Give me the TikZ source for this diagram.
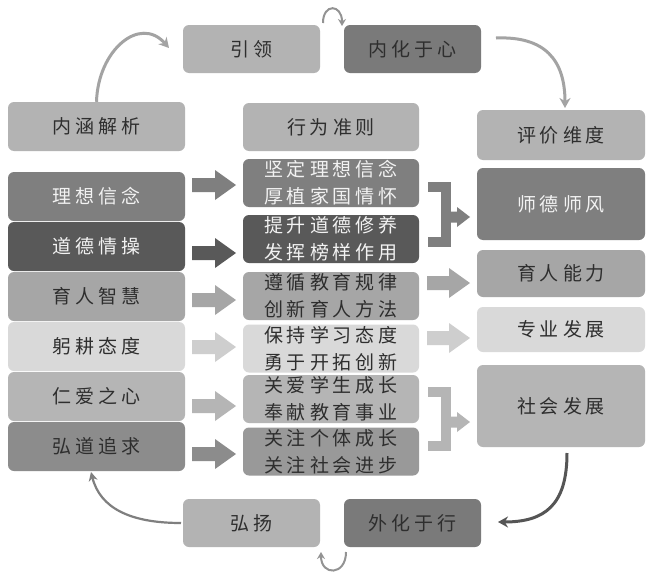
\documentclass[tikz,border=0pt]{standalone}
\usepackage{fontspec}
\newfontfamily\cjk{Noto Sans CJK SC}
\usetikzlibrary{arrows.meta}
\definecolor{gA}{HTML}{7F7F7F}
\definecolor{gB}{HTML}{595959}
\definecolor{gC}{HTML}{A6A6A6}
\definecolor{gD}{HTML}{D9D9D9}
\definecolor{gE}{HTML}{B5B5B5}
\definecolor{gF}{HTML}{8C8C8C}
\definecolor{gFm}{HTML}{999999}
\definecolor{hdr}{HTML}{B3B3B3}
\definecolor{dk}{HTML}{7A7A7A}
\definecolor{txtd}{HTML}{2E2E2E}
\definecolor{txtl}{HTML}{F2F2F2}
\definecolor{arrg}{HTML}{A3A3A3}
\definecolor{arrd}{HTML}{555555}
\def\spaced#1{\spacedfirst#1\relax}
\def\spacedfirst#1{#1\spacedrest}
\def\spacedrest#1{\ifx#1\relax\else\kern4pt #1\expandafter\spacedrest\fi}
\newcommand\blockarr[4]{%
  \fill[#4] (#1,#3-7) -- (#2-21,#3-7) -- (#2-21,#3-15) -- (#2,#3) -- (#2-21,#3+15) -- (#2-21,#3+7) -- (#1,#3+7) -- cycle;}
\newcommand\bracketarr[4]{%
  \draw[#4, line width=10pt, line join=miter] (428,#1) -- (446,#1) -- (446,#2) -- (428,#2);
  \fill[#4] (446,#3-5.5) -- (457,#3-5.5) -- (457,#3-10) -- (470,#3) -- (457,#3+10) -- (457,#3+5.5) -- (446,#3+5.5) -- cycle;}
\tikzset{
  box/.style={rounded corners=6pt, inner sep=0pt, text=txtd, align=center,
    font=\cjk\fontsize{19}{27}\selectfont},
  lbox/.style={box, minimum width=177pt, minimum height=49pt},
  mbox/.style={box, minimum width=176pt, minimum height=48pt},
  rbox/.style={box, minimum width=168pt},
  sbox/.style={box, minimum width=137pt, minimum height=48pt},
  curv/.style={line width=3pt, arrg, -{Stealth[length=10pt,width=11pt]}},
  loop/.style={line width=2pt, arrg!90!black, -{Stealth[length=7pt,width=8pt]}},
}
\begin{document}
\begin{tikzpicture}[x=1pt,y=-1pt]
\fill[white] (0,0) rectangle (654,573);
\useasboundingbox (0,0) rectangle (654,573);
% top and bottom
\node[sbox, fill=hdr] (yl) at (251.5,49) {\spaced{引领}};
\node[sbox, fill=dk] (nh) at (412.5,49) {\spaced{内化于心}};
\node[sbox, fill=hdr] (hy) at (251.5,523) {\spaced{弘扬}};
\node[sbox, fill=dk] (wh) at (412.5,523) {\spaced{外化于行}};
% headers
\node[lbox, fill=hdr] (h1) at (96.5,126.5) {\spaced{内涵解析}};
\node[mbox, fill=hdr] (h2) at (331,127) {\spaced{行为准则}};
\node[rbox, fill=hdr, minimum height=50pt] (h3) at (561,135) {\spaced{评价维度}};
% left column
\node[lbox, fill=gA, text=txtl] (l1) at (96.5,196.5) {\spaced{理想信念}};
\node[lbox, fill=gB, text=txtl] (l2) at (96.5,246.5) {\spaced{道德情操}};
\node[lbox, fill=gC] (l3) at (96.5,296.5) {\spaced{育人智慧}};
\node[lbox, fill=gD] (l4) at (96.5,346.5) {\spaced{躬耕态度}};
\node[lbox, fill=gE] (l5) at (96.5,396.5) {\spaced{仁爱之心}};
\node[lbox, fill=gF] (l6) at (96.5,446.5) {\spaced{弘道追求}};
% middle column
\node[mbox, fill=gA, text=txtl] (m1) at (331,183) {\spaced{坚定理想信念}\\\spaced{厚植家国情怀}};
\node[mbox, fill=gB, text=txtl] (m2) at (331,239) {\spaced{提升道德修养}\\\spaced{发挥榜样作用}};
\node[mbox, fill=gC] (m3) at (331,296) {\spaced{遵循教育规律}\\\spaced{创新育人方法}};
\node[mbox, fill=gD] (m4) at (331,348.5) {\spaced{保持学习态度}\\\spaced{勇于开拓创新}};
\node[mbox, fill=gE] (m5) at (331,399) {\spaced{关爱学生成长}\\\spaced{奉献教育事业}};
\node[mbox, fill=gFm] (m6) at (331,451.5) {\spaced{关注个体成长}\\\spaced{关注社会进步}};
% right column
\node[rbox, fill=gA, text=txtl, minimum height=72pt] (r1) at (561,204) {\spaced{师德师风}};
\node[rbox, fill=gC, minimum height=47pt] (r2) at (561,273.5) {\spaced{育人能力}};
\node[rbox, fill=gD, minimum height=45pt] (r3) at (561,329.5) {\spaced{专业发展}};
\node[rbox, fill=gE, minimum height=82pt] (r4) at (561,406) {\spaced{社会发展}};
% block arrows left -> middle
\blockarr{192}{236}{185}{gA}
\blockarr{192}{236}{253}{gB}
\blockarr{192}{236}{300}{gC}
\blockarr{192}{236}{347}{gD!95!black}
\blockarr{192}{236}{406}{gE}
\blockarr{192}{236}{454}{gF}
% middle -> right
\bracketarr{187}{241.5}{217}{gA}
\blockarr{427}{470}{283}{gC}
\blockarr{427}{470}{338}{gD!95!black}
\bracketarr{392}{446}{422}{gE}
% curved connectors
\coordinate (c1) at (169,48);
\coordinate (c2s) at (496,38);
\coordinate (c2e) at (565,108);
\coordinate (c3s) at (567,453);
\coordinate (c3e) at (498,522);
\coordinate (c4s) at (181,523);
\coordinate (c4e) at (91,472);
\draw[curv] (h1.north) .. controls (98,50) and (140,15) .. (c1);
\draw[curv] (c2s) .. controls (545,36) and (565,60) .. (c2e);
\draw[line width=3pt, arrd, -{Stealth[length=10pt,width=11pt]}] (c3s) .. controls (567,505) and (545,522) .. (c3e);
\draw[line width=2.2pt, gA, -{Stealth[length=9pt,width=9pt]}] (c4s) .. controls (130,523) and (100,508) .. (c4e);
\coordinate (t1) at (323,23);
\coordinate (t2) at (342,26);
\draw[loop] (t1) .. controls (323,3) and (342,4) .. (t2);
\coordinate (b1) at (346,552);
\coordinate (b2) at (321,552);
\draw[loop] (b1) .. controls (346,576) and (321,576) .. (b2);
\end{tikzpicture}
\end{document}
